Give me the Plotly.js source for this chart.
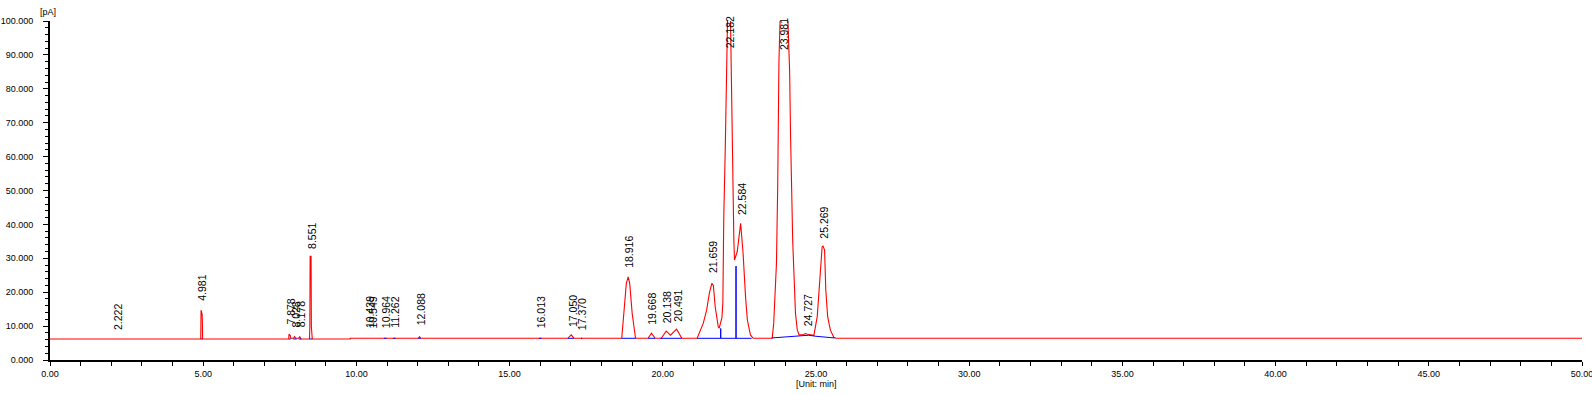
<!DOCTYPE html>
<html>
<head>
<meta charset="utf-8">
<script src="https://cdn.plot.ly/plotly-3.0.1.min.js"></script>
<style>html,body{margin:0;padding:0;background:#fff;}#chart{width:1592px;height:395px;}</style>
</head>
<body>
<div id="chart"></div>
<script>
// Detector signal (red), time in min, signal in pA
var signalTime = [0, 4.92, 4.93, 4.965, 4.975, 4.98,
  7.79, 7.80, 7.84, 7.86, 7.95, 7.98, 8.02, 8.12, 8.15, 8.19,
  8.47, 8.48, 8.49, 8.52, 8.53, 8.56,
  9.80, 9.80, 12.02, 12.06, 12.10, 16.90, 17.01, 17.10,
  18.66, 18.73, 18.81, 18.87, 18.92, 19.00, 19.11,
  19.52, 19.63, 19.75, 19.95, 20.11, 20.25, 20.45, 20.62,
  21.12, 21.32, 21.43, 21.52, 21.60, 21.65, 21.71, 21.76, 21.81, 21.84,
  21.89, 21.93, 21.96, 21.99, 22.04, 22.08, 22.16, 22.21, 22.27, 22.32, 22.34,
  22.43, 22.54, 22.62, 22.70, 22.76, 22.86, 22.95,
  23.57, 23.62, 23.71, 23.75, 23.79, 23.84, 23.98, 24.08, 24.14, 24.17, 24.20, 24.24, 24.28, 24.33, 24.39,
  24.45, 24.60, 24.66, 24.72, 24.85, 24.93, 25.04, 25.13, 25.20, 25.23, 25.28, 25.32, 25.38, 25.47, 25.58, 25.65,
  50];
var signalValue = [6.2, 6.2, 14.7, 13.5, 10.3, 6.2,
  6.2, 7.6, 7.2, 6.4, 6.4, 6.9, 6.4, 6.4, 6.9, 6.2,
  6.2, 9.8, 30.6, 30.6, 9.8, 6.2,
  6.2, 6.4, 6.4, 6.9, 6.4, 6.4, 7.4, 6.4,
  6.4, 13.8, 22.6, 24.5, 22.6, 13.8, 6.4,
  6.4, 7.9, 6.4, 6.4, 8.5, 7.3, 9.1, 6.4,
  6.4, 10.8, 14.7, 19.7, 22.6, 22.0, 15.7, 12.0, 9.8, 9.4,
  11.0, 12.5, 16.8, 42.0, 63.0, 80.5, 125.0, 100.0, 59.0, 35.0, 29.5,
  32.0, 40.3, 31.5, 18.7, 11.8, 7.4, 6.4,
  6.4, 10.8, 28.6, 51.0, 88.0, 101.0, 150.0, 101.0, 85.0, 66.0, 48.0, 35.0, 25.6, 13.8, 8.8,
  7.4, 7.5, 7.8, 7.6, 7.3, 7.3, 12.8, 25.5, 33.4, 33.6, 32.4, 20.6, 12.8, 8.8, 6.7, 6.4,
  6.4];

// Integration baselines and drop lines (blue); null separates segments
var baseTime = [4.92, 4.98, null, 7.80, 7.86, null, 7.94, 8.05, null, 8.12, 8.20, null,
  8.47, 8.56, null, 10.90, 10.98, null, 11.20, 11.28, null, 12.02, 12.10, null,
  15.96, 16.04, null, 16.90, 17.10, null, 17.33, 17.37, null,
  18.66, 19.11, null, 19.52, 19.75, null, 19.92, 20.62, null,
  21.12, 21.89, 21.89, 21.89, 22.39, 22.39, 22.39, 22.90, null,
  23.55, 23.90, 24.30, 24.60, 24.75, 25.00, 25.60];
var baseValue = [6.2, 6.2, null, 6.2, 6.2, null, 6.2, 6.2, null, 6.2, 6.2, null,
  6.2, 6.2, null, 6.4, 6.4, null, 6.4, 6.4, null, 6.4, 6.4, null,
  6.4, 6.4, null, 6.4, 6.4, null, 6.4, 6.4, null,
  6.4, 6.4, null, 6.4, 6.4, null, 6.4, 6.4, null,
  6.4, 6.4, 9.3, 6.4, 6.4, 27.7, 6.4, 6.4, null,
  6.5, 6.8, 7.1, 7.3, 7.3, 7.0, 6.5];

// Peak retention times and the height at which each label sits
var peakTimes = [2.222, 4.981, 7.878, 8.028, 8.178, 8.551, 10.439, 10.549, 10.964, 11.262,
  12.088, 16.013, 17.050, 17.370, 18.916, 19.668, 20.138, 20.491, 21.659, 22.182,
  22.584, 23.981, 24.727, 25.269];
var peakHeights = [6.5, 15.0, 8.2, 7.2, 7.2, 30.4, 7.0, 7.0, 7.0, 7.0,
  8.0, 6.9, 7.5, 6.5, 24.7, 7.9, 8.5, 8.9, 23.2, 89.5,
  40.4, 89.0, 7.5, 33.5];

var FONT = 'Liberation Sans, Arial, sans-serif';

var annotations = peakTimes.map(function (t, i) {
  return {
    x: t, y: peakHeights[i], xref: 'x', yref: 'y',
    text: t.toFixed(3), showarrow: false, textangle: -90,
    xanchor: 'center', yanchor: 'bottom', yshift: 8,
    borderpad: 0, borderwidth: 0,
    font: {family: FONT, size: 10.5, color: '#000'}
  };
});
annotations.push({
  text: '[pA]', xref: 'paper', yref: 'paper', x: 0, y: 1, xshift: -2, yshift: 2,
  xanchor: 'center', yanchor: 'bottom', showarrow: false,
  font: {family: FONT, size: 9, color: '#000'}
});
annotations.push({
  text: '[Unit: min]', xref: 'paper', yref: 'paper', x: 0.5, y: 0, yshift: -24,
  xanchor: 'center', yanchor: 'middle', showarrow: false,
  font: {family: FONT, size: 9, color: '#000'}
});

var traces = [
  {x: signalTime, y: signalValue, type: 'scatter', mode: 'lines',
   line: {color: '#ff0000', width: 1.1}, hoverinfo: 'skip'},
  {x: baseTime, y: baseValue, type: 'scatter', mode: 'lines', connectgaps: false,
   line: {color: '#0000ff', width: 1}, hoverinfo: 'skip'}
];

var layout = {
  width: 1592, height: 395,
  margin: {l: 50, r: 10, t: 21, b: 35},
  paper_bgcolor: '#fff', plot_bgcolor: '#fff',
  showlegend: false,
  font: {family: FONT, size: 9, color: '#000'},
  xaxis: {
    range: [0, 50], dtick: 5, tick0: 0, tickformat: '.2f',
    showgrid: false, zeroline: false, showline: true, linecolor: '#000', linewidth: 2,
    ticks: 'outside', ticklen: 4, tickwidth: 1, tickcolor: '#000',
    minor: {dtick: 1, ticks: 'outside', ticklen: 4, tickwidth: 1, tickcolor: '#000', showgrid: false},
    tickfont: {family: FONT, size: 9, color: '#000'},
    ticklabeloverflow: 'allow'
  },
  yaxis: {
    range: [0, 100], dtick: 10, tick0: 0, tickformat: '.3f',
    showgrid: false, zeroline: false, showline: true, linecolor: '#000', linewidth: 2,
    ticks: 'outside', ticklen: 5, tickwidth: 1, tickcolor: '#000',
    minor: {dtick: 2, ticks: 'outside', ticklen: 3, tickwidth: 1, tickcolor: '#000', showgrid: false},
    tickfont: {family: FONT, size: 9, color: '#000'},
    ticklabelstandoff: 8,
    ticklabeloverflow: 'allow'
  },
  annotations: annotations
};

Plotly.newPlot('chart', traces, layout, {staticPlot: true, displayModeBar: false});
</script>
</body>
</html>
